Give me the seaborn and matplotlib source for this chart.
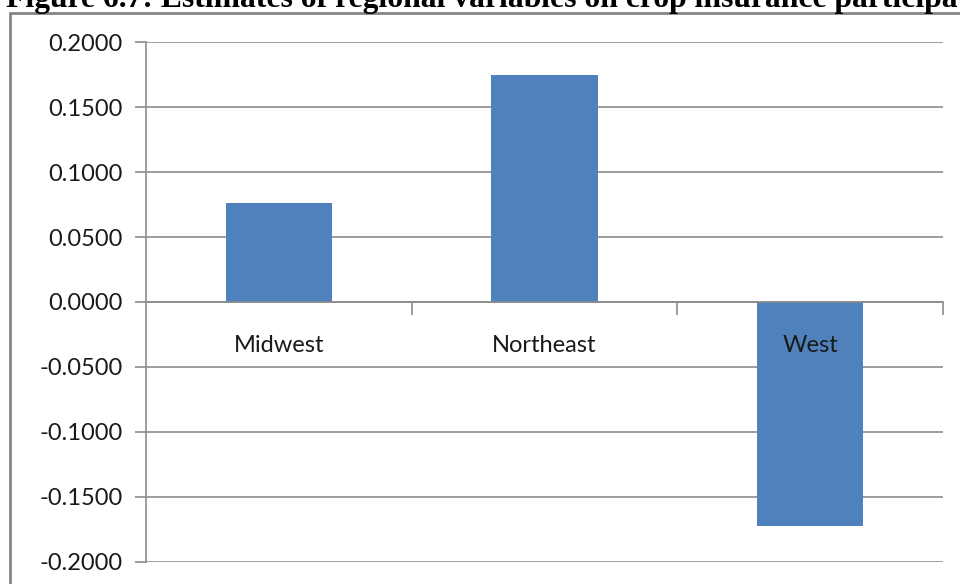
import matplotlib
matplotlib.use("Agg")
import matplotlib.pyplot as plt
from matplotlib.lines import Line2D
import seaborn as sns
import pandas as pd

# Regional estimates
regions = ["Midwest", "Northeast", "West"]
estimates = [0.076, 0.175, -0.1725]
y_ticks = [-0.2, -0.15, -0.1, -0.05, 0.0, 0.05, 0.1, 0.15, 0.2]
title_text = "Figure 6.7: Estimates of regional variables on crop insurance participation"

df = pd.DataFrame({"region": regions, "estimate": estimates})

sns.set_theme(style="white")
plt.rcParams["font.family"] = ["Lato", "DejaVu Sans"]

fig = plt.figure(figsize=(9.6, 5.84), dpi=100)
ax = fig.add_axes([146 / 960, 1 - 561.7 / 584, (943 - 146) / 960, (561.7 - 42.3) / 584])

sns.barplot(data=df, x="region", y="estimate", color="#4F81BD", width=0.4,
            saturation=1, ax=ax, linewidth=0)

grid_c = "#8c8c8c"
text_c = "#1a1a1a"
ax.set_ylim(-0.2, 0.2)
ax.set_xlim(-0.5, 2.5)
ax.set_yticks(y_ticks)
ax.set_yticklabels([f"{v:.4f}" for v in y_ticks], fontsize=17, color=text_c)
ax.yaxis.grid(True, color=grid_c, linewidth=1.2)
ax.set_axisbelow(True)
ax.tick_params(axis="y", length=8, width=1.2, color=grid_c, pad=9, left=True)

# category axis sits on the zero line; ticks mark category boundaries
ax.spines["bottom"].set_position(("data", 0))
ax.set_xticks([0.5, 1.5, 2.5])
ax.set_xticklabels([])
ax.tick_params(axis="x", which="major", length=9, width=1.2, color=grid_c, direction="out", bottom=True)
ax.set_xlabel("")
ax.set_ylabel("")

# category names drawn just under the zero line, on top of the bars
for i, name in enumerate(regions):
    ax.text(i, -0.0335, name, ha="center", va="center", fontsize=17,
            color=text_c, zorder=5)

for s in ["top", "right"]:
    ax.spines[s].set_visible(False)
for s in ["left", "bottom"]:
    ax.spines[s].set_color(grid_c)
    ax.spines[s].set_linewidth(1.2)

# outer chart frame
frame_c = "#858585"
fig.add_artist(Line2D([9.5 / 960, 9.5 / 960], [0, 1 - 12.5 / 584], transform=fig.transFigure,
                      color=frame_c, linewidth=2))
fig.add_artist(Line2D([9.5 / 960, 1], [1 - 12.5 / 584, 1 - 12.5 / 584], transform=fig.transFigure,
                      color=frame_c, linewidth=2))

fig.text(6 / 960, 1 - 7 / 584, title_text, ha="left", va="baseline",
         fontsize=22.8, fontweight="bold", family="Liberation Serif", color="black")

fig.savefig("out.png", dpi=100)
